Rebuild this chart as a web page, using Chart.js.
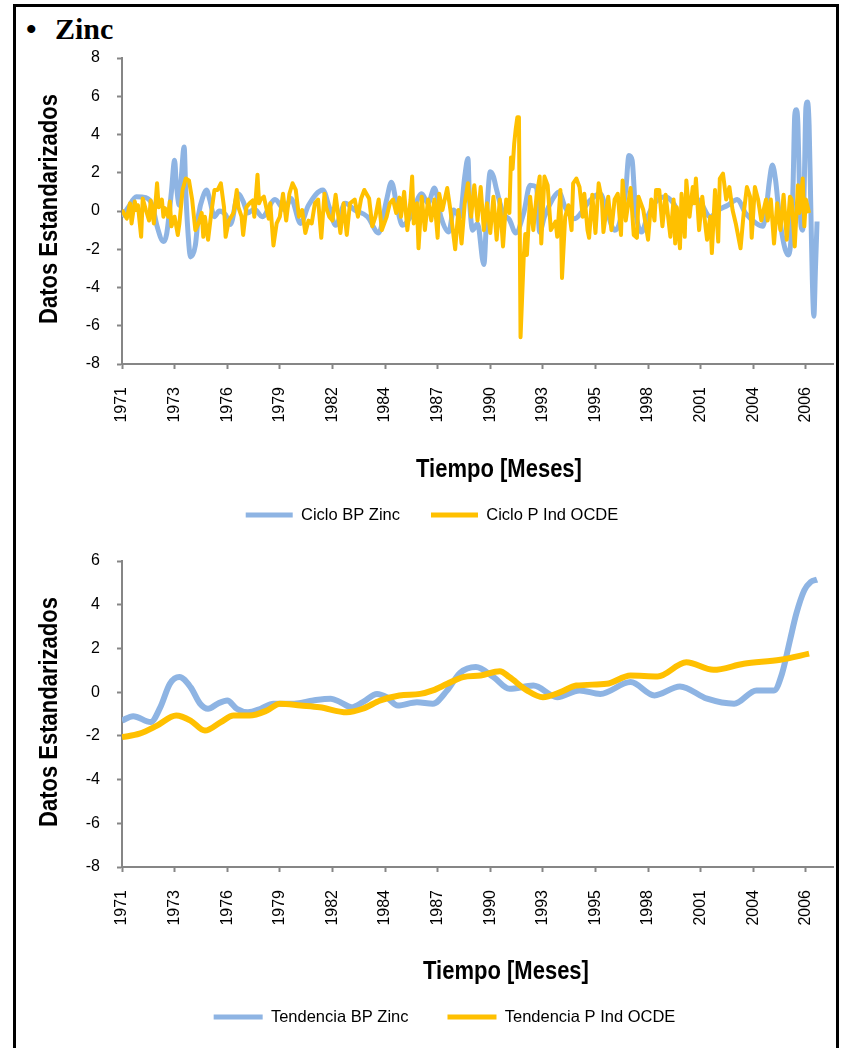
<!DOCTYPE html>
<html lang="es">
<head>
<meta charset="utf-8">
<title>Zinc</title>
<script src="https://cdn.jsdelivr.net/npm/chart.js@4.4.1/dist/chart.umd.min.js"></script>
<style>
  html, body { margin: 0; padding: 0; background: #fff; overflow: hidden; }
  body { width: 844px; height: 1048px; position: relative; }
  .frame { position: absolute; left: 13px; top: 4px; width: 826px; height: 1100px;
           border: 3px solid #000; box-sizing: border-box; }
  .heading { position: absolute; top: 14px; font: bold 30px "Liberation Serif", "Times New Roman", serif;
             line-height: 30px; color: #000; white-space: nowrap; }
  canvas { position: absolute; left: 20px; }
  #ciclo { top: 45px; }
  #tendencia { top: 548px; }
</style>
</head>
<body>
<div class="frame"></div>
<div class="heading" style="left:26px">•</div>
<div class="heading" style="left:55px">Zinc</div>
<canvas id="ciclo" width="818" height="500"></canvas>
<canvas id="tendencia" width="818" height="500"></canvas>
<script>
// Eje de tiempo: meses contados desde enero de 1971, con una etiqueta cada 33 meses
const tickMonths = [0, 33, 66, 99, 132, 165, 198, 231, 264, 297, 330, 363, 396, 429];
const tickYears = ['1971', '1973', '1976', '1979', '1982', '1984', '1987', '1990',
                   '1993', '1995', '1998', '2001', '2004', '2006'];
const lastMonth = 446;

// Ciclo BP Zinc (componente cíclica estandarizada)
const cicloBpMonths = [0, 4, 9, 15, 19, 22, 26, 28, 31, 33, 34, 36, 37, 39, 40, 42, 43, 46, 48, 51,
  53, 55, 58, 61, 65, 68, 73, 76, 79, 83, 88, 96, 102, 106, 112, 117, 126, 130, 134, 140,
  146, 154, 161, 166, 169, 173, 176, 181, 188, 192, 196, 200, 205, 208, 212, 215, 217, 218, 220, 223,
  227, 229, 231, 233, 235, 239, 243, 247, 252, 256, 260, 262, 265, 270, 274, 278, 284, 288, 292, 300,
  304, 309, 312, 316, 318, 320, 322, 326, 329, 334, 341, 346, 350, 355, 361, 369, 374, 380, 386, 391,
  398, 402, 404, 406, 408, 410, 412, 414, 416, 418, 420, 421, 422, 423, 424, 425, 426, 427, 428, 429,
  430, 431, 432, 433, 434, 435, 436];
const cicloBpValues = [-0.3, 0.2, 0.75, 0.7, 0.3, -0.8, -1.6, -1.2, 1.0, 2.65, 1.5, 0.3, 1.5, 3.35, 1.0, -1.8, -2.4, -1.8, -0.2, 0.8,
  1.1, 0.6, -0.3, 0.0, -0.2, -0.7, 0.9, 0.5, -0.1, 0.1, -0.3, 0.6, 0.05, 0.65, -0.65, 0.3, 1.1, 0.2, -0.75, 0.4,
  0.05, -0.3, -1.15, 0.6, 1.5, 0.0, -0.75, -0.3, 0.9, 0.4, 1.2, -0.3, -1.1, 0.05, -0.3, 1.8, 2.75, 0.6, -1.0, -0.65,
  -2.8, 0.2, 2.05, 1.8, 1.1, -0.1, -0.45, -1.15, -0.1, 1.35, 1.25, -1.1, -0.3, 0.6, 1.0, 0.2, -0.4, -0.1, 0.4, 0.9,
  0.05, -1.0, -0.65, 1.1, 2.9, 2.65, 0.2, -1.1, -0.45, 0.4, 0.75, 0.4, -0.2, 0.2, 0.6, -0.3, 0.05, 0.3, 0.6, -0.1,
  -0.65, -0.8, 0.0, 1.5, 2.4, 1.6, 0.0, -1.2, -2.0, -2.3, -1.0, 1.5, 5.0, 5.3, 4.5, 1.0, -0.8, -1.0, 1.5, 5.4,
  5.7, 4.5, 0.5, -3.5, -5.5, -3.0, -0.55];

// Ciclo P Ind OCDE (componente cíclica estandarizada)
const cicloOcdeMonths = [0, 3, 5, 6, 8, 9, 10, 12, 13, 15, 17, 18, 20, 22, 23, 25, 26, 27, 29, 30,
  31, 33, 35, 36, 38, 40, 42, 44, 46, 48, 50, 51, 52, 54, 56, 58, 60, 62, 64, 65,
  67, 70, 72, 73, 75, 76, 78, 80, 82, 83, 85, 86, 87, 89, 92, 93, 95, 97, 99, 101,
  103, 105, 107, 109, 111, 113, 115, 117, 119, 121, 123, 125, 127, 128, 130, 132, 134, 137, 139, 141,
  143, 146, 148, 150, 152, 155, 157, 159, 161, 163, 166, 168, 170, 172, 174, 175, 177, 179, 181, 182,
  183, 185, 186, 188, 190, 192, 194, 196, 198, 199, 201, 204, 206, 209, 211, 213, 215, 217, 219, 221,
  223, 225, 227, 229, 231, 233, 235, 237, 239, 241, 243, 244, 245, 246, 247, 248, 249, 250, 252, 253,
  254, 256, 258, 260, 262, 263, 265, 267, 269, 272, 273, 275, 276, 278, 280, 282, 283, 285, 287, 289,
  290, 292, 293, 295, 297, 299, 301, 302, 305, 307, 309, 311, 313, 314, 316, 319, 321, 323, 324, 327,
  330, 332, 334, 335, 337, 339, 341, 344, 346, 347, 348, 350, 351, 353, 354, 356, 358, 359, 360, 362,
  364, 366, 367, 369, 370, 372, 374, 375, 377, 379, 381, 383, 385, 388, 390, 392, 394, 395, 397, 399,
  401, 404, 405, 407, 409, 411, 413, 415, 417, 419, 420, 422, 424, 425, 427, 428, 429, 431];
const cicloOcdeValues = [0.05, -0.4, 0.4, -0.65, 0.5, 0.05, 0.3, -1.35, 0.65, 0.05, -0.5, 0.55, -0.65, 1.45, 0.2, 0.6, -0.3, 0.15, -0.3, 0.5,
  -0.8, -0.3, -1.25, -0.65, 1.1, 1.7, 1.6, 0.6, -1.0, -0.65, -0.1, -1.35, -0.3, -1.5, -0.1, 1.1, 1.1, 1.45, 0.2, -1.35,
  -0.5, -0.1, 1.1, 0.2, -0.3, -1.25, 0.2, 0.4, 0.55, -0.3, 1.9, 0.4, 0.6, 0.75, -0.4, 0.4, -1.8, -0.65, -0.3, 0.9,
  -0.5, 0.9, 1.45, 1.1, -0.3, 0.05, -1.15, -0.5, -0.65, 0.4, 0.6, -1.4, 0.9, 0.2, -0.3, -0.5, 0.85, -1.15, 0.4, -1.25,
  0.4, 0.6, -0.3, 0.65, 1.1, 0.65, -0.8, -0.3, 0.6, -1.0, -0.3, 0.4, 0.6, -0.1, 0.7, -0.3, 1.0, -1.0, 0.6, 1.8,
  -0.65, 0.4, -1.95, 0.75, -1.0, 0.6, -0.5, 0.6, -1.4, 0.9, 0.05, 1.2, 0.05, -2.0, 0.05, -1.7, 0.4, 1.45, -0.3, 1.35,
  -0.5, 1.25, -1.0, 0.4, -1.15, 0.75, -1.5, 0.6, -1.85, 0.6, -0.1, 2.8, 2.2, 3.5, 4.3, 4.9, 4.9, -6.6, -2.4, -1.2,
  -2.3, 0.75, -1.0, 0.75, 1.8, -1.7, 1.8, 1.35, -1.0, -0.55, -1.35, 1.1, -3.5, -0.3, 0.3, -1.0, 1.45, 1.7, 1.25, -0.3,
  0.9, -1.0, -1.4, 0.85, -1.15, 1.45, 0.6, -1.1, 0.75, -1.0, 0.6, 0.9, -1.25, 1.6, -0.5, 1.2, -1.25, -1.4, 0.75, 0.05,
  -1.5, 0.6, -0.5, 1.1, 1.1, -0.8, 0.85, -1.35, 0.6, -1.7, 0.2, -1.95, 0.9, -1.35, 1.6, -0.3, 1.25, 0.4, 1.7, -1.0,
  0.75, -0.8, -1.5, -0.3, -2.2, 1.1, -1.6, 1.7, 1.95, 0.6, 1.25, 0.05, -0.65, -1.95, -0.1, 1.25, 0.75, -1.4, 1.25, 0.6,
  -0.5, 0.6, -0.5, 0.6, -1.7, 0.4, -1.0, 0.85, -1.5, 0.75, 0.6, -1.85, 1.35, -0.1, 1.7, -0.8, 0.6, -0.1];

// Tendencia BP Zinc
const tendBpMonths = [0, 7, 18, 24, 30, 36, 43, 49, 54, 60, 66, 72, 79, 87, 95, 108, 120, 131, 137, 144,
  151, 160, 166, 173, 185, 195, 204, 212, 222, 233, 243, 258, 273, 287, 300, 319, 334, 350, 367, 384,
  398, 409, 414, 419, 423, 428, 432, 436];
const tendBpValues = [-1.3, -1.1, -1.37, -0.7, 0.38, 0.69, 0.23, -0.53, -0.76, -0.53, -0.38, -0.76, -0.92, -0.76, -0.53, -0.53, -0.38, -0.3, -0.46, -0.69,
  -0.46, -0.08, -0.23, -0.61, -0.46, -0.53, 0.08, 0.88, 1.15, 0.69, 0.15, 0.3, -0.23, 0.08, -0.08, 0.46, -0.15, 0.26, -0.3, -0.53,
  0.08, 0.08, 0.84, 2.37, 3.59, 4.66, 5.04, 5.15];

// Tendencia P Ind OCDE
const tendOcdeMonths = [0, 11, 22, 34, 43, 52, 62, 70, 80, 91, 99, 112, 124, 141, 151, 162, 174, 187, 195, 204,
  214, 225, 237, 243, 254, 264, 275, 285, 304, 319, 336, 354, 371, 390, 413, 431];
const tendOcdeValues = [-2.06, -1.9, -1.53, -1.07, -1.3, -1.76, -1.37, -1.07, -1.07, -0.84, -0.53, -0.61, -0.69, -0.92, -0.76, -0.38, -0.15, -0.08, 0.08, 0.38,
  0.69, 0.76, 0.96, 0.69, 0.08, -0.23, 0.0, 0.3, 0.38, 0.76, 0.72, 1.37, 1.02, 1.3, 1.48, 1.76];

const BLUE = '#8EB4E3';
const GOLD = '#FFC000';
const AXIS = '#868686';
const FONT = '"Liberation Sans", Arial, sans-serif';

const points = (months, values) => months.map((m, i) => ({ x: m, y: values[i] }));

// Títulos de eje en negrita, algo estrechados, en posiciones fijas del lienzo
const axisTitles = {
  id: 'axisTitles',
  afterDraw(chart, args, opts) {
    const ctx = chart.ctx;
    const put = (t, cx, cy, rot) => {
      ctx.save();
      ctx.translate(cx, cy);
      ctx.rotate(rot);
      ctx.scale(opts.squeeze, 1);
      ctx.fillText(t, 0, 0);
      ctx.restore();
    };
    ctx.save();
    ctx.fillStyle = '#000';
    ctx.font = 'bold ' + opts.size + 'px ' + FONT;
    ctx.textAlign = 'center';
    ctx.textBaseline = 'middle';
    put(opts.x.text, opts.x.cx, opts.x.cy, 0);
    put(opts.y.text, opts.y.cx, opts.y.cy, -Math.PI / 2);
    ctx.restore();
  }
};

function legendItems(chart) {
  const items = Chart.defaults.plugins.legend.labels.generateLabels(chart);
  items.forEach(it => { it.fillStyle = it.strokeStyle; it.lineWidth = 0; });
  return items;
}

function drawPanel(id, c) {
  return new Chart(document.getElementById(id), {
    type: 'line',
    data: {
      datasets: [
        { label: c.names[0], data: c.series[0], borderColor: BLUE, backgroundColor: BLUE,
          borderWidth: c.widths[0], pointRadius: 0, cubicInterpolationMode: 'monotone', order: 2 },
        { label: c.names[1], data: c.series[1], borderColor: GOLD, backgroundColor: GOLD,
          borderWidth: c.widths[1], pointRadius: 0, borderJoinStyle: 'round',
          cubicInterpolationMode: c.smoothGold ? 'monotone' : 'default', tension: 0, order: 1 }
      ]
    },
    options: {
      responsive: false,
      animation: false,
      devicePixelRatio: 1,
      events: [],
      layout: { padding: { top: 13, right: 5, bottom: c.padBottom, left: c.padLeft } },
      plugins: {
        tooltip: { enabled: false },
        legend: {
          position: 'bottom',
          labels: {
            boxWidth: c.legendBox, boxHeight: 5, padding: c.legendGap, color: '#000',
            font: { family: FONT, size: 16.5 },
            sort: (a, b) => a.datasetIndex - b.datasetIndex,
            generateLabels: legendItems
          }
        },
        axisTitles: {
          size: 25, squeeze: 0.88,
          x: { text: 'Tiempo [Meses]', cx: c.xTitle[0], cy: c.xTitle[1] },
          y: { text: 'Datos Estandarizados', cx: 30, cy: 164 }
        }
      },
      scales: {
        x: {
          type: 'linear', min: 0, max: lastMonth,
          afterBuildTicks: s => { s.ticks = tickMonths.map(v => ({ value: v })); },
          // altura fija y sin margen lateral extra por las etiquetas giradas
          afterFit: s => { s.height = c.xHeight; s.paddingLeft = 0; s.paddingRight = 0; },
          ticks: {
            autoSkip: false, minRotation: 90, maxRotation: 90, padding: 18, color: '#000',
            font: { family: FONT, size: 16 },
            callback: v => tickYears[tickMonths.indexOf(v)]
          },
          grid: { drawOnChartArea: false, tickLength: 5, tickColor: AXIS, tickWidth: 2 },
          border: { color: AXIS, width: 2 }
        },
        y: {
          min: c.yMin, max: c.yMax,
          // ancho fijo; el margen superior lo da layout.padding
          afterFit: s => { s.width = 102 - c.padLeft; s.paddingTop = 0; s.paddingBottom = 0; },
          ticks: { stepSize: 2, padding: 17, color: '#000', font: { family: FONT, size: 16 } },
          grid: { drawOnChartArea: false, tickLength: 5, tickColor: AXIS, tickWidth: 2 },
          border: { color: AXIS, width: 2 }
        }
      }
    },
    plugins: [axisTitles]
  });
}

drawPanel('ciclo', {
  names: ['Ciclo BP Zinc', 'Ciclo P Ind OCDE'],
  series: [points(cicloBpMonths, cicloBpValues), points(cicloOcdeMonths, cicloOcdeValues)],
  widths: [5, 4], smoothGold: false,
  yMin: -8, yMax: 8,
  padLeft: 11, padBottom: 11.75, legendGap: 31, legendBox: 47, xHeight: 111.75,
  xTitle: [479, 425]
});

drawPanel('tendencia', {
  names: ['Tendencia BP Zinc', 'Tendencia P Ind OCDE'],
  series: [points(tendBpMonths, tendBpValues), points(tendOcdeMonths, tendOcdeValues)],
  widths: [6, 6], smoothGold: true,
  yMin: -8, yMax: 6,
  padLeft: 36, padBottom: 12.75, legendGap: 39, legendBox: 49, xHeight: 102.75,
  xTitle: [486, 424]
});
</script>
</body>
</html>
